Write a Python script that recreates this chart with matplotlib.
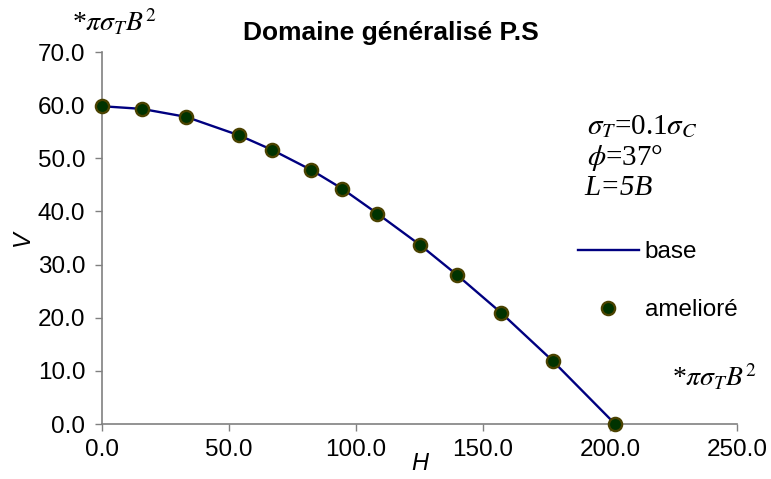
import matplotlib
matplotlib.use("Agg")
import matplotlib.pyplot as plt

plt.rcParams['font.family'] = ['Liberation Sans', 'DejaVu Sans']
plt.rcParams['mathtext.fontset'] = 'stix'

# base curve and improved results (H, V)
H_base = [0, 15.7, 33.1, 54.1, 66.9, 82.4, 94.5, 108.4, 125.2, 139.9, 157.2, 177.4, 202.0]
V_base = [59.8, 59.3, 57.8, 54.3, 51.6, 47.8, 44.3, 39.6, 33.7, 28.0, 20.9, 11.9, 0.0]
H_amel = [0, 15.7, 33.1, 54.1, 66.9, 82.4, 94.5, 108.4, 125.2, 139.9, 157.2, 177.4, 202.0]
V_amel = [59.8, 59.3, 57.8, 54.3, 51.6, 47.8, 44.3, 39.6, 33.7, 28.0, 20.9, 11.9, 0.0]

x_ticks = [0, 50, 100, 150, 200, 250]
y_ticks = [0, 10, 20, 30, 40, 50, 60, 70]

fig = plt.figure(figsize=(7.71, 4.79), dpi=100)
ax = fig.add_axes([0.1323, 0.1148, 0.8236, 0.7766])

ax.plot(H_base, V_base, color='#000080', lw=1.7, label='base', clip_on=False, zorder=2)
ax.plot(H_amel, V_amel, ls='none', marker='o', ms=9.5, mfc='#003300', mec='#4a4200',
        mew=1.7, label='amelioré', clip_on=False, zorder=3)

ax.set_xlim(0, 250)
ax.set_ylim(0, 70)
ax.set_xticks(x_ticks)
ax.set_yticks(y_ticks)
ax.set_xticklabels([f"{t:.1f}" for t in x_ticks], fontsize=17.5)
ax.set_yticklabels([f"{t:.1f}" for t in y_ticks], fontsize=17.5)
ax.tick_params(direction='out', length=5, color='#808080', width=1)
ax.tick_params(axis='y', pad=7)
ax.tick_params(axis='x', pad=6)

for s in ['top', 'right']:
    ax.spines[s].set_visible(False)
for s in ['left', 'bottom']:
    ax.spines[s].set_color('#808080')
    ax.spines[s].set_linewidth(1.2)

ax.set_ylabel('V', fontsize=17, fontstyle='italic', labelpad=3)
ax.set_xlabel('H', fontsize=17, fontstyle='italic', labelpad=-7)

fig.text(0.507, 0.931, 'Domaine généralisé P.S', fontsize=19, fontweight='bold',
         ha='center', va='center')

fig.text(0.093, 0.954, r'*$\pi\sigma_T B^2$', fontsize=20, ha='left', va='center',
         family='Liberation Serif')
fig.text(0.871, 0.213, r'*$\pi\sigma_T B^2$', fontsize=20, ha='left', va='center',
         family='Liberation Serif')

fig.text(0.761, 0.735, r'$\sigma_T$=0.1$\sigma_C$', fontsize=21, ha='left', va='center',
         family='Liberation Serif')
fig.text(0.761, 0.670, r'$\phi$=37°', fontsize=21, ha='left', va='center',
         family='Liberation Serif')
fig.text(0.758, 0.607, 'L=5B', fontsize=21, ha='left', va='center',
         family='Liberation Serif', fontstyle='italic')

ax.legend(loc='upper left', bbox_to_anchor=(578 / 771, 1 - 241 / 479),
          bbox_transform=fig.transFigure, frameon=False, fontsize=17.5,
          handlelength=2.5, handletextpad=0.25, labelspacing=1.5,
          borderpad=0, borderaxespad=0)

fig.savefig('out.png', dpi=100)
